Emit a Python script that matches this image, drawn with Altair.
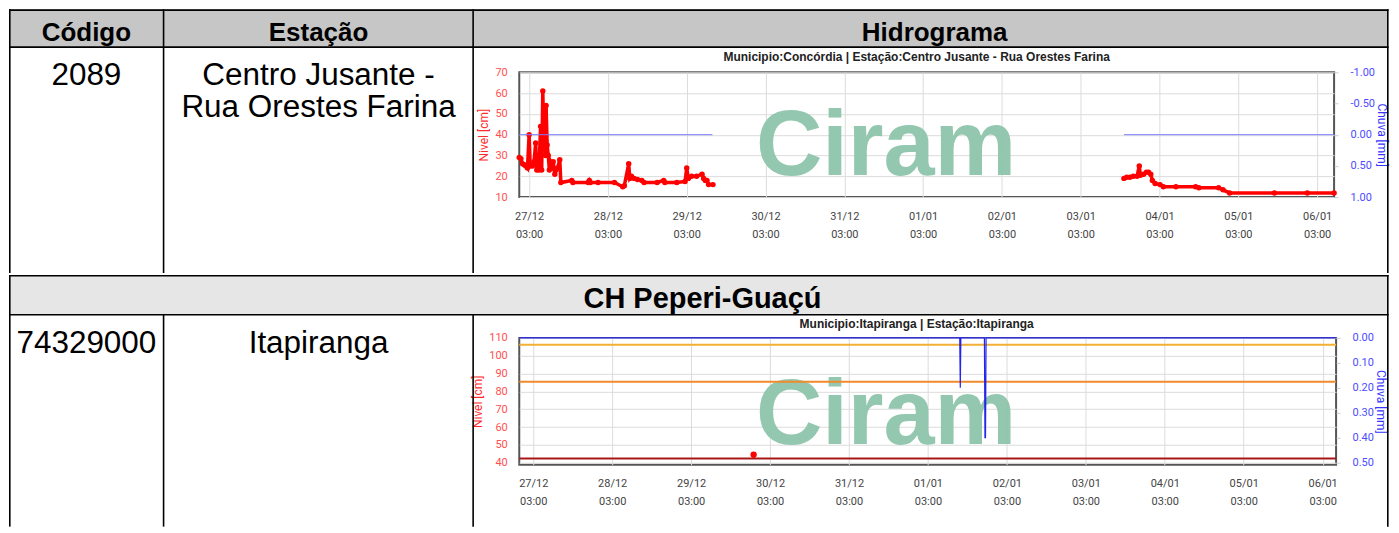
import altair as alt
import pandas as pd

# ---------------- table text ----------------
HEADERS = ["Código", "Estação", "Hidrograma"]
SECTION = "CH Peperi-Guaçú"
CODES = ["2089", "74329000"]
STATION_LINES = [["Centro Jusante -", "Rua Orestes Farina"], ["Itapiranga"]]
CHART_TITLES = [
    "Municipio:Concórdia | Estação:Centro Jusante - Rua Orestes Farina",
    "Municipio:Itapiranga | Estação:Itapiranga",
]
WATERMARK = "Ciram"
LEVEL_TITLE = "Nivel [cm]"
RAIN_TITLE = "Chuva [mm]"

TICK_TIMES = ["2024-12-27T03:00", "2024-12-28T03:00", "2024-12-29T03:00", "2024-12-30T03:00",
              "2024-12-31T03:00", "2025-01-01T03:00", "2025-01-02T03:00", "2025-01-03T03:00",
              "2025-01-04T03:00", "2025-01-05T03:00", "2025-01-06T03:00"]

# ---------------- station 2089 ----------------
X1_DOMAIN = ["2024-12-27T00:00", "2025-01-06T08:10"]
LEVEL1_DOMAIN = [10, 70]
LEVEL1_TICKS = [10, 20, 30, 40, 50, 60, 70]
RAIN1_DOMAIN = [-1.0, 1.0]
RAIN1_TICKS = [-1.0, -0.5, 0.0, 0.5, 1.0]

LEVEL1_TIME = [
    "2024-12-27T00:00", "2024-12-27T00:30", "2024-12-27T01:00", "2024-12-27T01:30", "2024-12-27T02:00",
    "2024-12-27T02:30", "2024-12-27T03:00", "2024-12-27T03:20", "2024-12-27T04:00", "2024-12-27T04:30",
    "2024-12-27T05:00", "2024-12-27T05:20", "2024-12-27T06:00", "2024-12-27T06:30", "2024-12-27T06:50",
    "2024-12-27T07:10", "2024-12-27T07:30", "2024-12-27T07:50", "2024-12-27T08:00", "2024-12-27T08:10",
    "2024-12-27T08:30", "2024-12-27T08:50", "2024-12-27T09:10", "2024-12-27T09:30", "2024-12-27T10:00",
    "2024-12-27T10:20", "2024-12-27T10:50", "2024-12-27T11:10", "2024-12-27T11:40", "2024-12-27T12:20",
    "2024-12-27T12:40", "2024-12-27T16:00", "2024-12-27T16:20", "2024-12-27T21:00", "2024-12-27T21:20",
    "2024-12-27T21:40", "2024-12-28T00:00", "2024-12-28T05:00", "2024-12-28T07:30", "2024-12-28T08:00",
    "2024-12-28T09:20", "2024-12-28T09:40", "2024-12-28T10:10", "2024-12-28T11:00", "2024-12-28T12:00",
    "2024-12-28T13:20", "2024-12-28T14:00", "2024-12-28T18:00", "2024-12-28T20:00", "2024-12-28T20:20",
    "2024-12-29T00:00", "2024-12-29T02:30", "2024-12-29T03:00", "2024-12-29T03:30", "2024-12-29T04:30",
    "2024-12-29T06:00", "2024-12-29T07:40", "2024-12-29T08:10", "2024-12-29T08:40", "2024-12-29T09:10",
    "2024-12-29T09:40", "2024-12-29T11:00",
    "2025-01-03T16:10", "2025-01-03T17:00", "2025-01-03T18:00", "2025-01-03T19:00", "2025-01-03T20:10",
    "2025-01-03T20:50", "2025-01-03T21:10", "2025-01-03T22:10", "2025-01-03T23:00", "2025-01-03T23:40",
    "2025-01-04T00:20", "2025-01-04T00:50", "2025-01-04T01:40", "2025-01-04T03:10", "2025-01-04T04:10",
    "2025-01-04T08:00", "2025-01-04T14:00", "2025-01-04T15:00", "2025-01-04T21:00", "2025-01-04T22:20",
    "2025-01-05T00:20", "2025-01-05T14:00", "2025-01-06T00:00", "2025-01-06T08:10",
]
LEVEL1_CM = [
    29, 28.5, 26, 25.5, 25,
    24, 40, 25, 25, 27,
    36, 23, 23, 44, 23,
    61, 35, 52, 30, 54,
    35, 30, 23, 27, 25,
    27, 21, 23, 24, 28,
    17, 18, 17, 17, 18,
    17, 17, 17, 15, 15.5,
    26, 19, 20, 19, 18.5,
    18, 17, 17, 18, 17,
    17, 17.5, 24, 19, 20,
    20, 21, 19, 18, 18,
    16, 16,
    19, 19.5, 19.5, 20, 20,
    25, 20.5, 21, 22, 22,
    21, 18, 16.5, 16, 15,
    15, 15, 14.5, 14.5, 13.5,
    12, 12, 12, 12,
]
LEVEL1_SEGMENT = [1] * 62 + [2] * 24

RAIN1_TIME = ["2024-12-27T00:00", "2024-12-29T10:50", "2025-01-03T16:10", "2025-01-06T08:10"]
RAIN1_MM = [0.0, 0.0, 0.0, 0.0]
RAIN1_SEGMENT = [1, 1, 2, 2]

# ---------------- station 74329000 ----------------
X2_DOMAIN = ["2024-12-26T22:45", "2025-01-06T07:05"]
LEVEL2_DOMAIN = [38.9, 110]
LEVEL2_TICKS = [40, 50, 60, 70, 80, 90, 100, 110]
RAIN2_DOMAIN = [0.0, 0.508]
RAIN2_TICKS = [0.0, 0.1, 0.2, 0.3, 0.4, 0.5]

LEVEL2_TIME = ["2024-12-29T22:00"]
LEVEL2_CM = [44.5]
ALERT2_CM = [106.2, 85.4, 42.4]
RAIN2_TIME = ["2024-12-26T22:45", "2025-01-01T12:40", "2025-01-01T12:50", "2025-01-01T13:00",
              "2025-01-01T20:10", "2025-01-01T20:20", "2025-01-01T20:30", "2025-01-01T20:40",
              "2025-01-06T07:05"]
RAIN2_MM = [0.0, 0.0, 0.2, 0.0, 0.0, 0.4, 0.4, 0.0, 0.0]

# ---------------- styling ----------------
RED = "#ff0000"
ALERT_COLORS = ["#f2b134", "#f08a2c", "#a81818"]
GRID = "#dcdcdc"
FONT = "Liberation Sans"
AXFONT = "Roboto"
LW = 1.6          # table line width
PLOT_LEFT = 519   # shared left edge of both plot areas (page px)
RIGHT = 1388      # table right border (page px)
PAGE_RIGHT = 1391 # right limit of the drawing (page px)
BOTTOM = 524      # visible bottom of the last row (page px)
RAIN_LABEL = "replace(format(datum.value, '.2f'), '\u2212', '-')"


def dt(s):
    t = pd.Timestamp(s)
    return alt.DateTime(year=t.year, month=t.month, date=t.day, hours=t.hour, minutes=t.minute)


def x_enc(domain):
    return alt.X(
        "t:T",
        scale=alt.Scale(domain=[dt(domain[0]), dt(domain[1])]),
        axis=alt.Axis(
            values=[dt(s) for s in TICK_TIMES],
            labelExpr="[timeFormat(datum.value, '%d/%m'), timeFormat(datum.value, '%H:%M')]",
            title=None, grid=True, gridColor=GRID, gridWidth=1, ticks=False, tickSize=0,
            domain=False, labelFont=AXFONT, labelFontSize=11, labelColor="#444444",
            labelPadding=13, labelLineHeight=18, labelOverlap=False, labelFlush=False,
        ),
    )


def left_axis(ticks):
    return alt.Axis(
        orient="left", values=ticks, title=LEVEL_TITLE, titleColor="#ff2b2b", titleFont=AXFONT,
        titleFontSize=12, titleFontWeight="normal", titlePadding=4, labelColor="#ff4f4f",
        labelFont=AXFONT, labelFontSize=11, labelPadding=12, ticks=False, tickSize=0,
        domain=False, grid=True, gridColor=GRID, gridWidth=1,
    )


def right_axis(ticks):
    return alt.Axis(
        orient="right", values=ticks, labelExpr=RAIN_LABEL, title=RAIN_TITLE, titleColor="#3535ff",
        titleFont=AXFONT, titleFontSize=12, titleFontWeight="normal", titlePadding=0,
        labelColor="#4d4dff", labelFont=AXFONT, labelFontSize=11, labelPadding=12,
        ticks=True, tickSize=4, tickColor="#cccccc", domain=False, grid=False,
    )


ONE = alt.Data(values=[{"k": 0}])


def rect(x0, x1, y0, y1, ox, oy, fill, opacity=1.0):
    return alt.Chart(ONE).mark_rect(fill=fill, opacity=opacity).encode(
        x=alt.value(x0 - ox), x2=alt.value(x1 - ox), y=alt.value(y0 - oy), y2=alt.value(y1 - oy))


def hline(x0, x1, y, ox, oy):
    # table border drawn as a thin filled strip (top edge at y)
    return rect(x0, x1 + LW, y, y + LW, ox, oy, "black")


def vline(x, y0, y1, ox, oy):
    # table border drawn as a thin filled strip (left edge at x)
    return rect(x, x + LW, y0, y1, ox, oy, "black")


def text(s, x, y, ox, oy, size, weight="normal", font=FONT, color="black", align="center"):
    return alt.Chart(ONE).mark_text(font=font, fontSize=size, fontWeight=weight, color=color,
                                    align=align, baseline="alphabetic").encode(
        x=alt.value(x - ox), y=alt.value(y - oy), text=alt.value(s))


def watermark(x, y, ox, oy):
    return alt.Chart(ONE).mark_text(font=FONT, fontSize=92, fontWeight="bold", color="#8ec5ab",
                                    opacity=0.95, align="left", baseline="alphabetic").encode(
        x=alt.value(x - ox), y=alt.value(y - oy), text=alt.value(WATERMARK))


# ---------------- chart A (header + station 2089) ----------------
OX1, OY1, H1 = PLOT_LEFT, 71, 125
W1 = 1335 - PLOT_LEFT
lvl1 = pd.DataFrame({"t": pd.to_datetime(LEVEL1_TIME), "v": LEVEL1_CM, "seg": LEVEL1_SEGMENT})
rain1 = pd.DataFrame({"t": pd.to_datetime(RAIN1_TIME), "mm": RAIN1_MM, "seg": RAIN1_SEGMENT})

base1 = alt.Chart(lvl1).encode(
    x=x_enc(X1_DOMAIN),
    y=alt.Y("v:Q", scale=alt.Scale(domain=LEVEL1_DOMAIN, nice=False, zero=False), axis=left_axis(LEVEL1_TICKS)),
    detail="seg:N",
)
nivel1 = alt.layer(
    base1.mark_line(color=RED, strokeWidth=3.5),
    base1.mark_circle(color=RED, size=30, opacity=1),
)
chuva1 = alt.Chart(rain1).mark_line(color="#7a7aff", strokeWidth=1).encode(
    x=x_enc(X1_DOMAIN),
    y=alt.Y("mm:Q", scale=alt.Scale(domain=RAIN1_DOMAIN, reverse=True, nice=False, zero=False),
            axis=right_axis(RAIN1_TICKS)),
    detail="seg:N",
)

decoA_back = [
    rect(8, PAGE_RIGHT, 8, 46, OX1, OY1, "white", 0.0),
    rect(8, RIGHT, 8, 46, OX1, OY1, "#c6c6c6"),
    watermark(756, 174, OX1, OY1),
]
decoA_front = [
    hline(8, RIGHT, 8, OX1, OY1), hline(8, RIGHT, 45, OX1, OY1),
    vline(8, 8, 272, OX1, OY1), vline(162, 8, 272, OX1, OY1),
    vline(472, 8, 272, OX1, OY1), vline(RIGHT, 8, 272, OX1, OY1),
    text(HEADERS[0], 85.5, 40, OX1, OY1, 26, "bold"),
    text(HEADERS[1], 318, 40, OX1, OY1, 26, "bold"),
    text(HEADERS[2], 935, 40, OX1, OY1, 26, "bold"),
    text(CODES[0], 85.5, 84, OX1, OY1, 31.5),
    text(STATION_LINES[0][0], 318, 84, OX1, OY1, 31.5),
    text(STATION_LINES[0][1], 318, 116, OX1, OY1, 31.5),
    text(CHART_TITLES[0], 917, 60, OX1, OY1, 12, "bold", color="#222222"),
]
chartA = alt.layer(*decoA_back, nivel1, chuva1, *decoA_front).resolve_scale(y="independent").properties(
    width=W1, height=H1)

# ---------------- chart B (section + station 74329000) ----------------
OX2, OY2, H2 = PLOT_LEFT, 335, 127
W2 = 1337 - PLOT_LEFT
lvl2 = pd.DataFrame({"t": pd.to_datetime(LEVEL2_TIME), "v": LEVEL2_CM})
alert2 = pd.DataFrame({"v": ALERT2_CM, "k": list(range(len(ALERT2_CM)))})
rain2 = pd.DataFrame({"t": pd.to_datetime(RAIN2_TIME), "mm": RAIN2_MM})

y2 = alt.Y("v:Q", scale=alt.Scale(domain=LEVEL2_DOMAIN, nice=False, zero=False), axis=left_axis(LEVEL2_TICKS))
alerts = alt.Chart(alert2).mark_rule(strokeWidth=2).encode(
    y=y2,
    color=alt.Color("k:N", scale=alt.Scale(domain=list(range(len(ALERT_COLORS))), range=ALERT_COLORS), legend=None),
)
point2 = alt.Chart(lvl2).mark_circle(color=RED, size=40, opacity=1).encode(x=x_enc(X2_DOMAIN), y=y2)
nivel2 = alt.layer(alerts, point2)
chuva2 = alt.Chart(rain2).mark_line(color="#2424ee", strokeWidth=1.2).encode(
    x=x_enc(X2_DOMAIN),
    y=alt.Y("mm:Q", scale=alt.Scale(domain=RAIN2_DOMAIN, reverse=True, nice=False, zero=False),
            axis=right_axis(RAIN2_TICKS)),
)

decoB_back = [
    rect(8, PAGE_RIGHT, 272, 312, OX2, OY2, "white", 0.0),
    rect(8, RIGHT, 272, 312, OX2, OY2, "#e6e6e6"),
    watermark(756, 441, OX2, OY2),
]
decoB_front = [
    hline(8, RIGHT, 272, OX2, OY2), hline(8, RIGHT, 311, OX2, OY2),
    vline(8, 272, BOTTOM, OX2, OY2), vline(162, 311, BOTTOM, OX2, OY2),
    vline(472, 311, BOTTOM, OX2, OY2), vline(RIGHT, 272, BOTTOM, OX2, OY2),
    text(SECTION, 702.5, 305, OX2, OY2, 29, "bold"),
    text(CODES[1], 85.5, 350, OX2, OY2, 31.5),
    text(STATION_LINES[1][0], 318, 350, OX2, OY2, 31.5),
    text(CHART_TITLES[1], 917, 325, OX2, OY2, 12, "bold", color="#222222"),
]
chartB = alt.layer(*decoB_back, nivel2, chuva2, *decoB_front).resolve_scale(y="independent").properties(
    width=W2, height=H2)

chart = alt.vconcat(chartA, chartB, spacing=0).properties(
    padding=0, background="white"
).configure_view(stroke="#555555", strokeWidth=2)

chart.save("out.html", embed_options={"renderer": "svg", "actions": False})
